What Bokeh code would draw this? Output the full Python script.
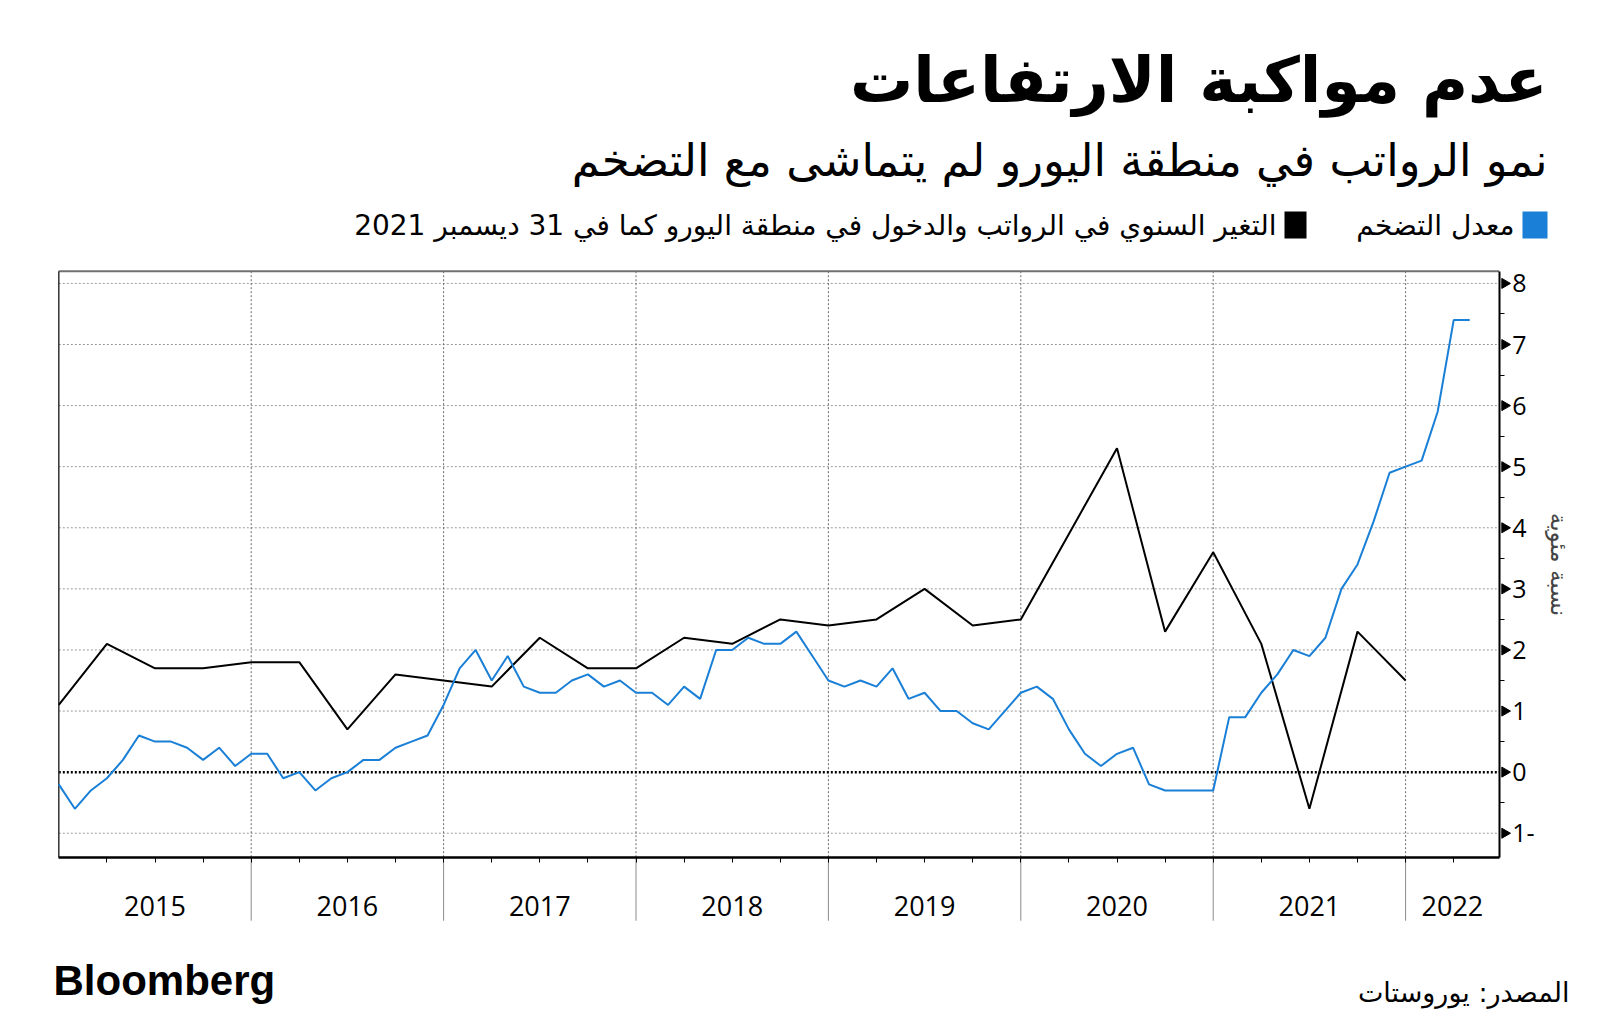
import math
from bokeh.plotting import figure
from bokeh.models import (Range1d, FixedTicker, Label, BoxAnnotation, LinearAxis)
from bokeh.embed import file_html
from bokeh.resources import INLINE

# ---------------- data ----------------
# Euro-area inflation (%, y/y), monthly, first value = Dec 2014
infl_start = (2014, 12)
inflation = [-0.2,
             -0.6, -0.3, -0.1, 0.2, 0.6, 0.5, 0.5, 0.4, 0.2, 0.4, 0.1, 0.3,
             0.3, -0.1, 0.0, -0.3, -0.1, 0.0, 0.2, 0.2, 0.4, 0.5, 0.6, 1.1,
             1.7, 2.0, 1.5, 1.9, 1.4, 1.3, 1.3, 1.5, 1.6, 1.4, 1.5, 1.3,
             1.3, 1.1, 1.4, 1.2, 2.0, 2.0, 2.2, 2.1, 2.1, 2.3, 1.9, 1.5,
             1.4, 1.5, 1.4, 1.7, 1.2, 1.3, 1.0, 1.0, 0.8, 0.7, 1.0, 1.3,
             1.4, 1.2, 0.7, 0.3, 0.1, 0.3, 0.4, -0.2, -0.3, -0.3, -0.3, -0.3,
             0.9, 0.9, 1.3, 1.6, 2.0, 1.9, 2.2, 3.0, 3.4, 4.1, 4.9, 5.0,
             5.1, 5.9, 7.4, 7.4]

# Euro-area wages & salaries (%, y/y), quarterly, first value = Q4 2014
wage_start = (2014, 4)
wages = [1.1,
         2.1, 1.7, 1.7, 1.8,
         1.8, 0.7, 1.6, 1.5,
         1.4, 2.2, 1.7, 1.7,
         2.2, 2.1, 2.5, 2.4,
         2.5, 3.0, 2.4, 2.5,
         3.9, 5.3, 2.3, 3.6,
         2.1, -0.6, 2.3, 1.5]

years = [2015, 2016, 2017, 2018, 2019, 2020, 2021, 2022]
year_labels = ["2015", "2016", "2017", "2018", "2019", "2020", "2021", "2022"]
y_ticks = [-1, 0, 1, 2, 3, 4, 5, 6, 7, 8]
y_tick_labels = {-1: "1-"}

title = "عدم مواكبة الارتفاعات"
subtitle = "نمو الرواتب في منطقة اليورو لم يتماشى مع التضخم"
legend_infl = "معدل التضخم"
legend_wage = "التغير السنوي في الرواتب والدخول في منطقة اليورو كما في 31 ديسمبر 2021"
y_label = "نسبة مئوية"
source_txt = "المصدر: يوروستات"
brand = "Bloomberg"


def month_x(start, n):
    y0, m0 = start
    return [y0 + (m0 + i) / 12.0 for i in range(n)]


def quarter_x(start, n):
    y0, q0 = start
    return [y0 + (q0 + i) / 4.0 for i in range(n)]


ix = month_x(infl_start, len(inflation))
wx = quarter_x(wage_start, len(wages))

# ---------------- geometry ----------------
W, H = 1600, 1033
XS = 192.4          # px per year
YS = 61.09          # px per percentage point
BOX_L, BOX_T = 58.3, 270.7          # chart box top-left (page px)
X0 = 2015.0
X1 = X0 + (1498.7 - BOX_L) / XS
Y1 = 8.20
Y0 = Y1 - (856.7 - BOX_T) / YS

xr = Range1d(X0 - BOX_L / XS, X0 + (W - BOX_L) / XS)
yr_top = Y1 + BOX_T / YS
yr = Range1d(yr_top - H / YS, yr_top)

BLUE = "#1a7fd6"
AR_FONT = "DejaVu Sans"
NUM_FONT = "Open Sans"

p = figure(width=W, height=H, output_backend="svg", toolbar_location=None,
           x_range=xr, y_range=yr, x_axis_location=None, y_axis_location=None,
           min_border=0, min_border_left=0, min_border_right=0,
           min_border_top=0, min_border_bottom=0)
p.background_fill_color = "white"
p.border_fill_color = "white"
p.outline_line_color = None
p.grid.visible = False

# ---------------- grid lines inside the chart box ----------------
hy = [t for t in y_ticks if t != 0]
p.segment(x0=[X0] * len(hy), y0=hy, x1=[X1] * len(hy), y1=hy,
          line_color="#9a9a9a", line_dash="2 2", line_width=1)
vx = years[1:]
p.segment(x0=vx, y0=[Y0] * len(vx), x1=vx, y1=[Y1] * len(vx),
          line_color="#6a6a6a", line_dash="2 2", line_width=1)
# year separators below the box
p.segment(x0=vx, y0=[Y0] * len(vx), x1=vx, y1=[Y0 - 1.04] * len(vx),
          line_color="#8a8a8a", line_width=1)
# zero line
p.segment(x0=[X0], y0=[0], x1=[X1], y1=[0], line_color="black",
          line_dash="2 2", line_width=2.5)
# box: top (grey) and left (dark)
p.segment(x0=[X0], y0=[Y1], x1=[X1], y1=[Y1], line_color="#707070", line_width=2)
p.segment(x0=[X0], y0=[Y0], x1=[X0], y1=[Y1], line_color="#333333", line_width=1.5)

# ---------------- series ----------------
p.line(wx, wages, line_color="black", line_width=2)
p.line(ix, inflation, line_color=BLUE, line_width=2)

# ---------------- x axis ----------------
label_pos = [(max(y, X0) + min(y + 1, X1)) / 2.0 for y in years]
quarters = [y + q / 4.0 for y in years for q in range(4) if X0 < y + q / 4.0 < X1]
xa = LinearAxis(fixed_location=Y0, bounds=(X0, X1))
xa.ticker = FixedTicker(ticks=label_pos, minor_ticks=quarters)
xa.major_label_overrides = {pos: lab for pos, lab in zip(label_pos, year_labels)}
xa.major_tick_out = 0
xa.major_tick_in = 0
xa.minor_tick_out = 5
xa.minor_tick_in = 0
xa.minor_tick_line_color = "black"
xa.axis_line_color = "black"
xa.axis_line_width = 2.5
xa.major_label_standoff = 34
xa.major_label_text_font = NUM_FONT
xa.major_label_text_font_size = "27px"
xa.major_label_text_color = "black"
p.add_layout(xa, "below")

# ---------------- y axis (right) ----------------
ya = LinearAxis(fixed_location=X1, bounds=(Y0, Y1))
ya.ticker = FixedTicker(ticks=y_ticks, minor_ticks=[t + 0.5 for t in y_ticks[:-1]])
ya.major_label_overrides = y_tick_labels
ya.major_tick_out = 10
ya.major_tick_in = 0
ya.major_tick_line_color = None
ya.minor_tick_out = 5
ya.minor_tick_in = 0
ya.minor_tick_line_color = "black"
ya.axis_line_color = "black"
ya.axis_line_width = 2
ya.major_label_standoff = 3
ya.major_label_text_font = NUM_FONT
ya.major_label_text_font_size = "25px"
ya.major_label_text_color = "black"
ya.axis_label = y_label
ya.axis_label_text_font = AR_FONT
ya.axis_label_text_font_size = "23px"
ya.axis_label_text_font_style = "normal"
ya.axis_label_standoff = 8
p.add_layout(ya, "right")

# triangular major tick marks pointing right
p.scatter(x=[X1 + 5.5 / XS] * len(y_ticks), y=y_ticks, marker="triangle",
          angle=-math.pi / 2, size=10, fill_color="black", line_color="black")


# ---------------- texts (screen px, page coordinates converted) ----------------
def lab(text, x, y_page, size, align="right", font=AR_FONT, style="normal", color="black"):
    p.add_layout(Label(text=text, x=x, y=H - y_page, x_units="screen", y_units="screen",
                       text_align=align, text_baseline="middle", text_font=font,
                       text_font_size=size, text_font_style=style, text_color=color))


lab(title, 1547, 80, "63px", style="bold")
lab(subtitle, 1547, 160, "45px")
lab(legend_infl, 1514, 225, "28px")
lab(legend_wage, 1276, 225, "28px")
lab(source_txt, 1569, 992, "27px")
lab(brand, 53, 980, "42px", align="left", font="Liberation Sans", style="bold")


def square(l, r, t, b, color):
    p.add_layout(BoxAnnotation(left=l, right=r, top=H - t, bottom=H - b,
                               left_units="screen", right_units="screen",
                               top_units="screen", bottom_units="screen",
                               fill_color=color, fill_alpha=1, line_color=None))


square(1522, 1547, 211, 238, BLUE)
square(1284, 1306, 211, 238, "black")

open("out.html", "w").write(file_html(p, INLINE))
